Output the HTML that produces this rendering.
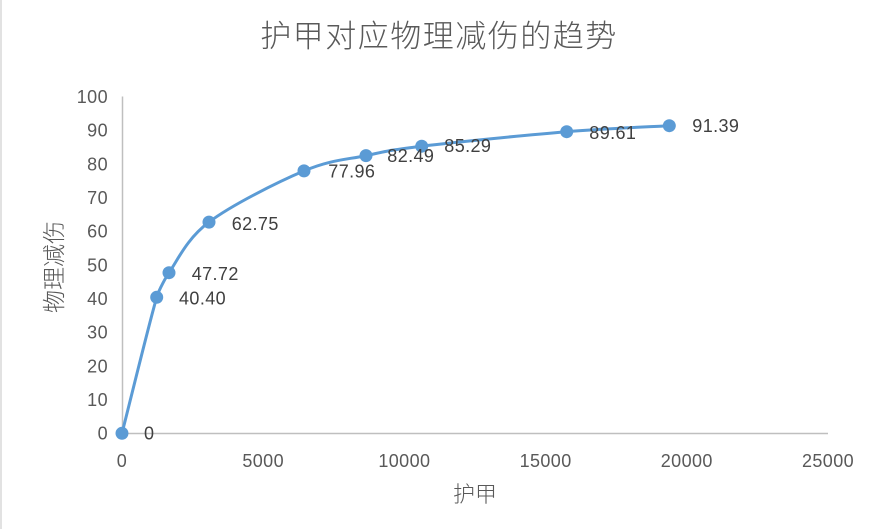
<!DOCTYPE html>
<html><head><meta charset="utf-8"><style>
html,body{margin:0;padding:0;background:#fff;}
svg{display:block;}
text{font-family:"Liberation Sans","Noto Sans CJK SC",sans-serif;}
</style></head><body>
<svg width="877" height="529" viewBox="0 0 877 529" xmlns="http://www.w3.org/2000/svg">
<rect x="0" y="0" width="877" height="529" fill="#fff"/>
<line x1="1" y1="0" x2="1" y2="529" stroke="#D9D9D9" stroke-width="1.5"/>
<text x="439" y="47" text-anchor="middle" font-size="31" fill="#595959" letter-spacing="1.5" font-weight="300" style="font-family:'Noto Sans CJK SC',sans-serif">护甲对应物理减伤的趋势</text>
<!-- axes -->
<line x1="122.5" y1="96.5" x2="122.5" y2="433.5" stroke="#BFBFBF" stroke-width="1.5"/>
<line x1="122" y1="433.5" x2="828" y2="433.5" stroke="#BFBFBF" stroke-width="1.5"/>
<!-- y tick labels -->
<g font-size="18" fill="#595959" text-anchor="end" letter-spacing="0.4">
<text x="108" y="439.6">0</text>
<text x="108" y="405.9">10</text>
<text x="108" y="372.3">20</text>
<text x="108" y="338.6">30</text>
<text x="108" y="305">40</text>
<text x="108" y="271.3">50</text>
<text x="108" y="237.7">60</text>
<text x="108" y="204">70</text>
<text x="108" y="170.4">80</text>
<text x="108" y="136.7">90</text>
<text x="108" y="103.1">100</text>
</g>
<!-- x tick labels -->
<g font-size="18" fill="#595959" text-anchor="middle" letter-spacing="0.4">
<text x="122" y="467">0</text>
<text x="263.2" y="467">5000</text>
<text x="404.4" y="467">10000</text>
<text x="545.6" y="467">15000</text>
<text x="686.8" y="467">20000</text>
<text x="828" y="467">25000</text>
</g>
<!-- axis titles -->
<text x="475" y="502" text-anchor="middle" font-size="22" fill="#595959" font-weight="300" style="font-family:'Noto Sans CJK SC',sans-serif">护甲</text>
<text transform="translate(62,267) rotate(-90)" x="0" y="0" text-anchor="middle" font-size="23" fill="#595959" font-weight="300" style="font-family:'Noto Sans CJK SC',sans-serif">物理减伤</text>
<!-- series -->
<path d="M122,433.3 C127.8,410.6 148.9,324.1 156.7,297.3 C159.0,289.3 166.4,276.5 169,272.7 C177.7,260.2 186.5,239.1 209,222.1 C231.5,205.1 277.8,182.0 304,170.9 C330.2,159.8 346.4,159.7 366,155.6 C385.6,151.5 388.3,150.2 421.7,146.2 C455.2,142.2 525.4,135.1 566.7,131.7 C608.0,128.3 652.2,126.7 669.3,125.7" fill="none" stroke="#5B9BD5" stroke-width="3" stroke-linecap="round" stroke-linejoin="round"/>
<g fill="#5B9BD5">
<circle cx="122" cy="433.3" r="6.5"/>
<circle cx="156.7" cy="297.3" r="6.5"/>
<circle cx="169" cy="272.7" r="6.5"/>
<circle cx="209" cy="222.1" r="6.5"/>
<circle cx="304" cy="170.9" r="6.5"/>
<circle cx="366" cy="155.6" r="6.5"/>
<circle cx="421.7" cy="146.2" r="6.5"/>
<circle cx="566.7" cy="131.7" r="6.5"/>
<circle cx="669.3" cy="125.7" r="6.5"/>
</g>
<!-- data labels -->
<g font-size="18" fill="#404040" letter-spacing="0.4">
<text x="144" y="439.6">0</text>
<text x="179" y="304.4">40.40</text>
<text x="191.7" y="279.8">47.72</text>
<text x="231.7" y="229.8">62.75</text>
<text x="328.3" y="177.5">77.96</text>
<text x="387.3" y="162.2">82.49</text>
<text x="444.3" y="152.2">85.29</text>
<text x="589.3" y="138.8">89.61</text>
<text x="692.3" y="132.2">91.39</text>
</g>
</svg>
</body></html>
